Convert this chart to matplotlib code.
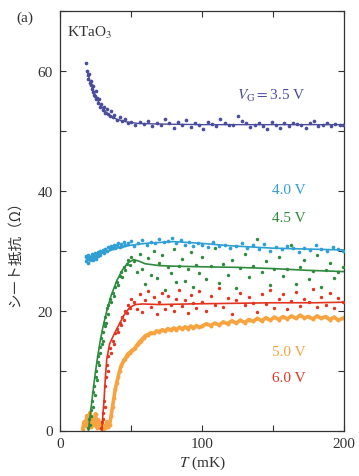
import matplotlib
matplotlib.use("Agg")
import matplotlib.pyplot as plt
from matplotlib.ticker import FuncFormatter, MultipleLocator

plt.rcParams['font.family'] = ['Liberation Serif', 'Noto Sans CJK JP', 'DejaVu Sans']
plt.rcParams['mathtext.fontset'] = 'stix'

# ---------------- data (T in mK, R in Ohm) ----------------
pts_35 = [(18.5,61.2),(19,60.0),(19.5,59.3),(20,58.6),(20.5,59.5),(21,58.0),(21.5,57.6),(22,58.3),
          (22.5,57.0),(23,56.5),(23.5,57.4),(24,56.0),(24.5,55.8),(25,56.6),(25.5,55.2),(26,55.5),
          (27,54.6),(27.5,55.3),(28,54.0),(29,54.4),(30,53.5),(31,53.9),(32,53.0),(33,53.6),
          (34,52.8),(35,52.4),(36,53.2),(37,52.2),(38,52.6),(40,51.8),(42,52.3),(44,51.6),
          (46,52.0),(48,51.2),(50,51.5),(53,50.9),(56,51.4),(59,51.1),(62,51.6),(65,50.8),
          (68,51.3),(71,51.0),(74,52.0),(77,51.2),(80,50.5),(83,51.4),(86,51.0),(89,51.8),
          (92,50.6),(95,51.2),(98,51.0),(101,50.3),(104,51.5),(107,51.1),(110,50.8),(113,51.9),
          (116,51.2),(119,50.9),(122,51.0),(125,52.4),(128,51.6),(131,51.3),(134,50.6),(137,51.0),
          (140,51.2),(143,50.8),(146,50.2),(149,51.5),(152,51.0),(155,50.4),(158,51.2),(161,50.7),
          (164,51.3),(167,51.1),(170,50.9),(173,50.5),(176,51.2),(179,51.6),(182,50.8),(185,51.0),
          (188,51.3),(191,50.7),(194,51.1),(197,51.0),(199,50.9)]
fit_35_T = [19, 22, 25, 28, 32, 36, 40, 46, 55, 70, 100, 150, 200]
fit_35_R = [60.0, 57.6, 55.8, 54.4, 53.2, 52.4, 51.9, 51.5, 51.2, 51.1, 51.0, 51.0, 51.0]

pts_40 = [(18,28.3),(18.5,29.1),(19,28.6),(19.5,28.0),(20,29.3),(20.5,28.7),(21,28.4),(21.5,29.0),
          (22,28.8),(22.5,29.5),(23,28.5),(23.5,29.2),(24,28.9),(24.5,29.6),(25,29.0),(25.5,28.6),
          (26,29.4),(26.5,29.8),(27,29.1),(27.5,29.5),(28,29.9),(28.5,29.3),(29,29.7),(30,30.1),
          (31,29.6),(32,30.3),(33,30.0),(34,30.6),(35,30.2),(36,30.8),(37,30.4),(38,31.0),
          (39,30.5),(40,30.9),(41,31.3),(42,30.6),(43,31.1),(44,30.7),(45,31.4),(46,30.9),
          (48,31.2),(50,31.6),(52,30.8),(55,31.3),(58,31.8),(61,31.0),(64,31.5),(67,31.2),
          (70,31.9),(73,31.4),(76,31.6),(79,32.1),(82,31.3),(85,31.7),(88,31.0),(91,31.5),
          (94,30.8),(97,31.3),(100,31.0),(104,30.6),(108,31.4),(112,30.7),(116,30.9),(120,30.4),
          (124,30.8),(128,31.2),(132,30.5),(136,30.9),(140,30.3),(144,31.1),(148,29.9),(152,30.6),
          (156,30.2),(160,30.8),(164,30.4),(168,29.8),(172,30.5),(176,30.1),(180,30.9),(184,30.3),
          (188,30.0),(192,30.6),(196,30.2),(199,29.9)]
fit_40_T = [18, 30, 40, 50, 60, 80, 100, 120, 150, 200]
fit_40_R = [28.8, 29.6, 30.4, 30.9, 31.2, 31.5, 31.2, 30.8, 30.4, 30.1]

pts_45 = [(20,0.5),(20.5,2.0),(21,1.0),(21.5,3.5),(22,2.5),(22.5,5.0),(23,4.0),(23.5,6.5),
          (24,7.5),(24.5,6.0),(25,9.0),(25.5,10.0),(26,8.5),(26.5,11.5),(27,12.5),(27.5,11.0),
          (28,14.0),(28.5,13.0),(29,15.5),(29.5,14.5),(30,16.5),(30.5,15.0),(31,18.0),(31.5,17.5),
          (32,19.0),(32.5,18.0),(33,20.5),(33.5,19.5),(34,21.0),(35,22.0),(36,21.5),(37,23.0),
          (38,22.5),(39,24.0),(40,24.8),(41,24.2),(42,25.8),(43,26.5),(44,25.6),(45,27.2),
          (46,26.8),(47,27.8),(48,28.4),(49,27.6),(50,29.0),(52,28.2),(54,26.5),(56,29.5),
          (58,27.0),(60,24.5),(62,28.8),(64,26.0),(66,30.0),(68,25.5),(70,27.9),(72,29.2),
          (74,23.5),(76,27.2),(78,26.3),(80,30.2),(82,24.8),(84,27.5),(86,28.6),(88,25.0),
          (90,27.0),(92,29.8),(94,24.0),(96,27.6),(98,26.2),(100,28.9),(103,25.3),(106,27.4),
          (109,30.5),(112,24.6),(115,27.8),(118,26.0),(121,28.5),(124,23.8),(127,27.1),(130,29.4),
          (133,25.6),(136,27.5),(139,32.0),(142,26.4),(145,28.2),(148,24.2),(151,27.0),(154,29.0),
          (157,25.8),(160,26.9),(163,31.0),(166,24.5),(169,27.3),(172,28.5),(175,25.2),(178,26.6),
          (181,29.3),(184,24.0),(187,26.8),(190,28.0),(193,25.5),(196,26.4),(199,27.2)]
fit_45_T = [20, 22, 24, 26, 28, 30, 33, 36, 40, 44, 48, 52, 56, 60, 70, 80, 100, 125, 150, 175, 200]
fit_45_R = [0, 4, 8, 11.5, 14.5, 17, 20, 22.5, 25, 26.8, 28, 28.5, 28.2, 27.8, 27.5, 27.4, 27.3, 27.2, 27.0, 26.7, 26.5]

pts_60 = [(29,0.5),(29.5,1.5),(30,3.0),(30.5,2.0),(31,5.0),(31.5,4.0),(32,7.5),(32.5,9.0),
          (33,11.0),(33.5,10.0),(34,12.5),(35,13.8),(36,13.0),(37,15.0),(38,14.5),(39,16.2),
          (40,17.0),(41,16.5),(42,18.0),(43,17.6),(44,19.0),(45,18.5),(46,20.0),(47,19.6),
          (48,21.0),(49,20.4),(50,22.0),(52,21.5),(54,20.3),(56,22.8),(58,19.8),(60,21.8),
          (62,23.2),(64,20.6),(66,22.2),(68,19.5),(70,21.4),(72,23.0),(74,20.2),(76,22.5),
          (78,21.0),(80,19.9),(82,22.0),(84,23.5),(86,20.8),(88,21.7),(90,19.6),(92,22.6),
          (94,21.2),(96,20.4),(98,23.3),(100,21.5),(103,20.0),(106,22.4),(109,21.0),(112,23.7),
          (115,20.6),(118,22.1),(121,19.4),(124,21.8),(127,23.0),(130,20.9),(133,22.3),(136,21.3),
          (139,19.8),(142,22.7),(145,21.1),(148,23.4),(151,20.5),(154,21.9),(157,22.8),(160,20.2),
          (163,21.6),(166,23.1),(169,20.8),(172,22.0),(175,21.4),(178,23.6),(181,20.6),(184,22.3),
          (187,21.0),(190,22.9),(193,20.4),(196,22.1),(199,21.5)]
fit_60_T = [29.5, 30, 31, 32, 33, 35, 38, 41, 45, 49, 53, 58, 70, 90, 120, 150, 180, 200]
fit_60_R = [0, 2, 5, 9, 12, 14.5, 16, 17.4, 19.2, 20.5, 21, 21.1, 21.0, 21.1, 21.2, 21.3, 21.3, 21.4]

pts_50 = [(16,0.3),(17,1.5),(18,0.8),(19,2.5),(20,1.2),(21,3.0),(22,0.6),(23,2.0),
          (24,1.0),(25,2.8),(26,0.5),(27,1.8),(28,0.4),(29,1.2),(30,0.3),(31,0.8),
          (32,0.4),(33,1.5),(34,0.6),(35,1.0),(36,2.5),(37,4.0),(38,5.5),(39,7.0),
          (40,8.0),(41,9.0),(42,10.0),(43,10.8),(44,11.2),(45,11.8),(46,12.0),(47,12.5),
          (48,12.8),(49,13.0),(50,13.2),(51,13.4),(52,13.6),(53,13.8),(54,14.2),(55,14.5),
          (56,14.8),(57,15.0),(58,15.3),(59,15.5),(60,15.8),(62,16.0),(64,16.3),(66,16.2),
          (68,16.6),(70,16.5),(72,16.8),(74,16.6),(76,17.0),(78,16.7),(80,17.1),(82,16.8),
          (84,17.2),(86,16.9),(88,17.3),(90,17.0),(92,17.4),(94,17.1),(96,17.5),(98,17.2),
          (100,17.4),(103,17.8),(106,17.5),(109,17.9),(112,17.6),(115,18.1),(118,17.8),(121,18.3),
          (124,17.9),(127,18.4),(130,18.0),(133,18.5),(136,18.2),(139,18.7),(142,18.3),(145,18.8),
          (148,18.4),(151,18.9),(154,18.5),(157,19.0),(160,18.6),(163,19.1),(166,18.7),(169,19.2),
          (172,18.8),(175,19.0),(178,18.6),(181,19.1),(184,18.7),(187,19.0),(190,18.5),(193,18.9),
          (196,18.4),(199,18.7)]

x_ticks = [0, 50, 100, 150, 200]
x_labels = {0: "0", 100: "100", 200: "200"}
y_labels = {0: "0", 20: "20", 40: "40", 60: "60"}

c35 = '#4a4c9c'
c40 = '#2f9fd4'
c45 = '#2e8a3c'
c50 = '#f7a440'
c60 = '#e2341f'

fig = plt.figure(figsize=(3.59, 4.77), dpi=100)
ax = fig.add_axes([60/359, 1-431.5/477, (344-60)/359, (431.5-11.7)/477])

def scatter(pts, color, s=6):
    T = [p[0] for p in pts]
    R = [p[1] for p in pts]
    ax.scatter(T, R, s=s, color=color, linewidths=0, zorder=3)

# orange: dense band
T50 = [p[0] for p in pts_50]; R50 = [p[1] for p in pts_50]
ax.plot(T50, R50, color=c50, lw=2.6, zorder=2)
ax.scatter(T50, R50, s=8, color=c50, linewidths=0, zorder=2)

scatter(pts_35, c35, s=7)
ax.plot(fit_35_T, fit_35_R, color=c35, lw=1.0, zorder=2)
scatter(pts_40, c40, s=7)
ax.plot(fit_40_T, fit_40_R, color=c40, lw=1.2, zorder=2)
scatter(pts_45, c45)
ax.plot(fit_45_T, fit_45_R, color=c45, lw=1.2, zorder=2)
scatter(pts_60, c60)
ax.plot(fit_60_T, fit_60_R, color=c60, lw=1.2, zorder=2)

ax.set_xlim(0, 200)
ax.set_ylim(0, 70)
ax.set_xticks(x_ticks)
ax.xaxis.set_major_formatter(FuncFormatter(lambda v, p: x_labels.get(int(round(v)), "")))
ax.yaxis.set_major_locator(MultipleLocator(10))
ax.yaxis.set_major_formatter(FuncFormatter(lambda v, p: y_labels.get(int(round(v)), "")))
ax.tick_params(direction='in', top=True, right=True, length=4, width=0.8, labelsize=11,
               pad=5, colors='#333333')
for sp in ax.spines.values():
    sp.set_linewidth(0.9)
    sp.set_color('#333333')

ax.set_xlabel(r"$T$ (mK)", fontsize=11, labelpad=2, color='#333333')
fig.text(15/359, 1-250/477, "シート抵抗（Ω）", rotation=90, ha='center', va='center',
         fontsize=10.5, family=['Noto Sans CJK JP', 'DejaVu Sans'], color='#333333')

fig.text(25/359, 1-18/477, "(a)", ha='center', va='center', fontsize=11, color='#333333')
ax.text(5, 66.5, r"KTaO$_3$", fontsize=11, ha='left', va='center', color='#333333')
ax.text(173, 56, r"$V_{\mathrm{G}}$$=$3.5 V", color=c35, fontsize=11, ha='right', va='center')
ax.text(173, 40.2, "4.0 V", color=c40, fontsize=11, ha='right', va='center')
ax.text(173, 35.5, "4.5 V", color=c45, fontsize=11, ha='right', va='center')
ax.text(173, 13.2, "5.0 V", color=c50, fontsize=11, ha='right', va='center')
ax.text(173, 8.8, "6.0 V", color=c60, fontsize=11, ha='right', va='center')

fig.savefig("out.png", dpi=100)
